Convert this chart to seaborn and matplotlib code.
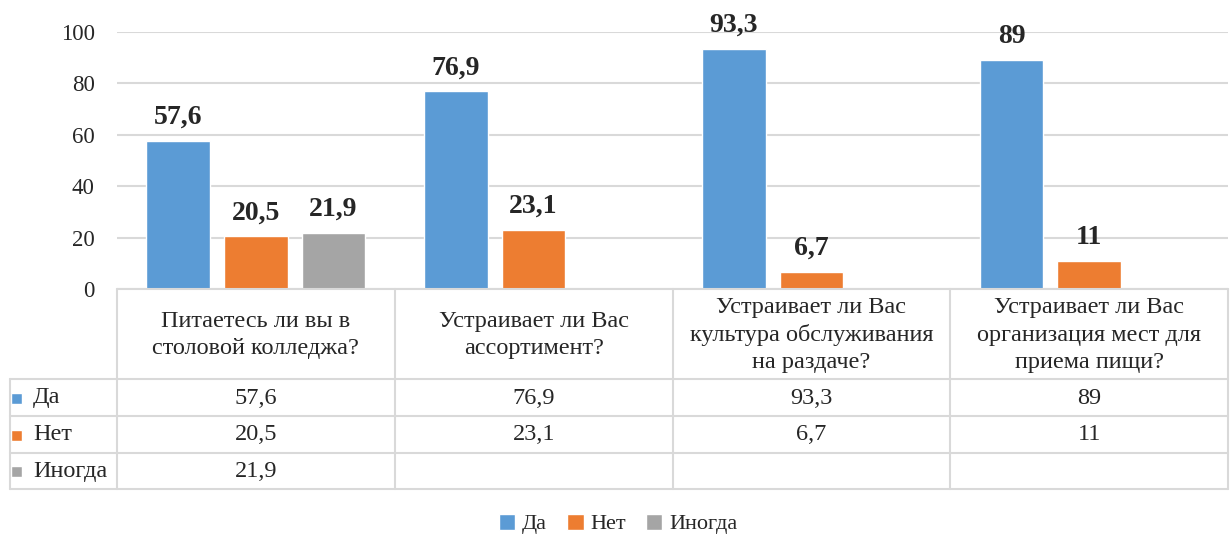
import pandas as pd
import numpy as np
from matplotlib import pyplot as plt
from matplotlib import transforms
from matplotlib.patches import Rectangle
import seaborn as sns

categories = ["Питаетесь ли вы в\nстоловой колледжа?",
              "Устраивает ли Вас\nассортимент?",
              "Устраивает ли Вас\nкультура обслуживания\nна раздаче?",
              "Устраивает ли Вас\nорганизация мест для\nприема пищи?"]
series = ["Да", "Нет", "Иногда"]
da = [57.6, 76.9, 93.3, 89]
net = [20.5, 23.1, 6.7, 11]
inogda = [21.9, np.nan, np.nan, np.nan]
colors = ["#5B9BD5", "#ED7D31", "#A5A5A5"]

df = pd.DataFrame({
    "cat": categories * 3,
    "series": [s for s in series for _ in categories],
    "value": da + net + inogda,
})

sns.set_style("white")
plt.rcParams['font.family'] = ['Liberation Serif', 'DejaVu Serif']

W, H = 1231, 535
fs = 17.5
fig = plt.figure(figsize=(W / 100, H / 100), dpi=100)
ax = fig.add_axes([117 / W, 1 - 289 / H, (1228 - 117) / W, (289 - 32) / H])

sns.barplot(data=df, x="cat", y="value", hue="series", hue_order=series,
            order=categories, palette=colors, width=0.838, gap=0.18,
            saturation=1, legend=False, ax=ax)

fmt = lambda v: f"{v:g}".replace(".", ",")
for c in ax.containers:
    ax.bar_label(c, labels=[fmt(b.get_height()) for b in c], padding=8,
                 fontsize=20, fontweight="bold")

ax.set_xlim(-0.5, 3.5)
ax.set_ylim(0, 100)
ax.set_yticks(range(0, 101, 20))
ax.tick_params(axis="y", labelsize=16.5, length=0, pad=16)
ax.set_xticks([])
ax.set_xlabel("")
ax.set_ylabel("")
ax.grid(axis="y", color="#D9D9D9", linewidth=1.5)
ax.set_axisbelow(True)
for s in ax.spines.values():
    s.set_visible(False)

# data table under the axis
tr = transforms.blended_transform_factory(ax.transData, fig.transFigure)
gc = "#D9D9D9"
px2x = lambda px: -0.5 + (px - 117) / 277.75
fy = lambda py: 1 - py / H
x_left = px2x(10)
ax.plot([-0.5, 3.5], [fy(289)] * 2, color=gc, lw=1.5, transform=tr, clip_on=False)
for px in [379, 416, 453, 489]:
    ax.plot([x_left, 3.5], [fy(px)] * 2, color=gc, lw=1.5, transform=tr, clip_on=False)
for xv in [-0.5, 0.5, 1.5, 2.5, 3.5]:
    ax.plot([xv, xv], [fy(289), fy(489)], color=gc, lw=1.5, transform=tr, clip_on=False)
ax.plot([x_left, x_left], [fy(379), fy(489)], color=gc, lw=1.5, transform=tr, clip_on=False)

for i, cat in enumerate(categories):
    ax.text(i, fy(335), cat, ha="center", va="center", fontsize=fs,
            linespacing=1.38, transform=tr)

row_y = [398, 435, 471.5]
for vals, name, col, py in zip([da, net, inogda], series, colors, row_y):
    ax.add_patch(Rectangle((px2x(11), fy(py) - 5.5 / H), 11 / 277.75, 11 / H,
                           facecolor=col, transform=tr, clip_on=False))
    ax.text(px2x(33), fy(py), name, ha="left", va="center", fontsize=fs, transform=tr)
    for i, v in enumerate(vals):
        if not np.isnan(v):
            ax.text(i, fy(py), fmt(v), ha="center", va="center", fontsize=fs, transform=tr)

handles = [Rectangle((0, 0), 1, 1, facecolor=c) for c in colors]
fig.legend(handles, series, loc="center", bbox_to_anchor=(0.502, 1 - 524 / H), ncol=3,
           frameon=False, fontsize=16, handlelength=0.75, handleheight=0.75,
           handletextpad=0.3, columnspacing=0.9)

fig.savefig("out.png", dpi=100)
